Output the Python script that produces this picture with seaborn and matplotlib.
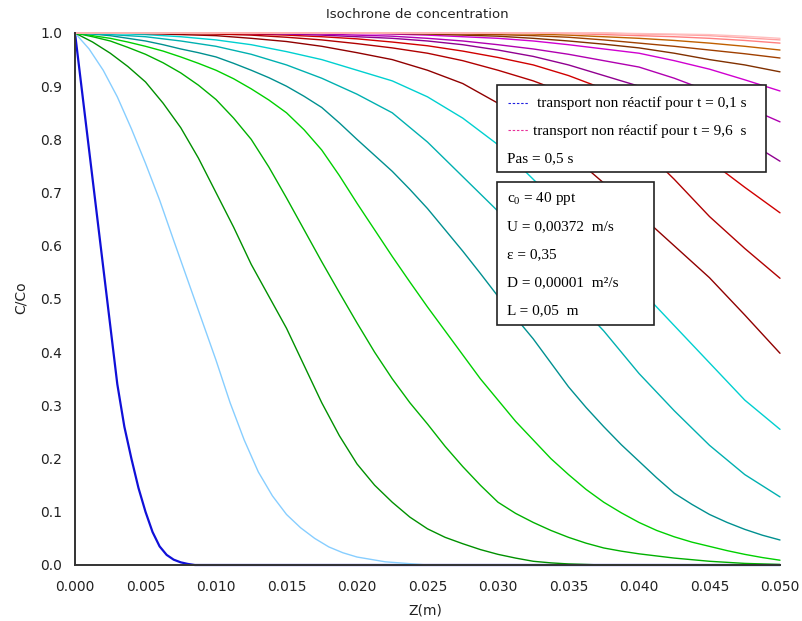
import matplotlib
matplotlib.use("Agg")
import matplotlib.pyplot as plt
from matplotlib.patches import Rectangle
from matplotlib.lines import Line2D
from matplotlib.ticker import MultipleLocator, FormatStrFormatter
import seaborn as sns
import pandas as pd

sns.set_style("white")
plt.rcParams["font.family"] = ["DejaVu Sans"]

# temps des isochrones (s), pas de 0,5 s
times = ["0.1", "0.6", "1.1", "1.6", "2.1", "2.6", "3.1", "3.6", "4.1", "4.6",
         "5.1", "5.6", "6.1", "6.6", "7.1", "7.6", "8.1", "8.6", "9.1", "9.6"]

# couleurs scilab (index 11 a 30)
colors = ["#1010d8", "#87ceff", "#009000", "#00b000", "#00d000", "#009090",
          "#00b0b0", "#00d0d0", "#900000", "#b00000", "#d00000", "#900090",
          "#b000b0", "#d000d0", "#803000", "#a04000", "#c06000", "#ff8080",
          "#ffa0a0", "#ffc0c0"]

# grilles en Z (m)
Z = [0.0, 0.0025, 0.005, 0.0075, 0.01, 0.0125, 0.015, 0.0175, 0.02, 0.0225,
     0.025, 0.0275, 0.03, 0.0325, 0.035, 0.0375, 0.04, 0.0425, 0.045, 0.0475, 0.05]
Zf = [0.0, 0.00125, 0.0025, 0.00375, 0.005, 0.00625, 0.0075, 0.00875, 0.01,
      0.01125, 0.0125, 0.01375, 0.015, 0.01625, 0.0175, 0.01875, 0.02, 0.02125,
      0.0225, 0.02375, 0.025, 0.02625, 0.0275, 0.02875, 0.03, 0.03125, 0.0325,
      0.03375, 0.035, 0.03625, 0.0375, 0.03875, 0.04, 0.04125, 0.0425, 0.04375,
      0.045, 0.04625, 0.0475, 0.04875, 0.05]

# t = 0,1 s et t = 0,6 s
z_01 = [0.0, 0.0005, 0.001, 0.0015, 0.002, 0.0025, 0.003, 0.0035, 0.004, 0.0045,
        0.005, 0.0055, 0.006, 0.0065, 0.007, 0.0075, 0.008, 0.0085, 0.05]
c_01 = [1.0, 0.89, 0.78, 0.67, 0.56, 0.45, 0.34, 0.26, 0.20, 0.145,
        0.10, 0.062, 0.035, 0.019, 0.010, 0.005, 0.002, 0.0, 0.0]

z_06 = [0.0, 0.001, 0.002, 0.003, 0.004, 0.005, 0.006, 0.007, 0.008, 0.009, 0.010,
        0.011, 0.012, 0.013, 0.014, 0.015, 0.016, 0.017, 0.018, 0.019, 0.020,
        0.022, 0.025, 0.05]
c_06 = [1.0, 0.97, 0.93, 0.88, 0.82, 0.755, 0.686, 0.61, 0.535, 0.46, 0.385,
        0.305, 0.235, 0.175, 0.13, 0.095, 0.07, 0.05, 0.034, 0.023, 0.015,
        0.006, 0.0, 0.0]

# t = 1,1 a 2,6 s sur la grille fine
c_11 = [1.0, 0.983, 0.962, 0.937, 0.908, 0.868, 0.822, 0.765, 0.70, 0.635,
        0.565, 0.505, 0.445, 0.375, 0.305, 0.243, 0.19, 0.15, 0.118, 0.09,
        0.068, 0.052, 0.04, 0.029, 0.02, 0.013, 0.007, 0.004, 0.002, 0.001,
        0.0, 0.0, 0.0, 0.0, 0.0, 0.0, 0.0, 0.0, 0.0, 0.0, 0.0]
c_16 = [1.0, 0.993, 0.985, 0.973, 0.96, 0.944, 0.925, 0.902, 0.875, 0.84,
        0.80, 0.748, 0.69, 0.63, 0.57, 0.512, 0.455, 0.40, 0.35, 0.305,
        0.265, 0.223, 0.185, 0.15, 0.118, 0.097, 0.08, 0.065, 0.052, 0.041,
        0.032, 0.026, 0.021, 0.017, 0.013, 0.01, 0.007, 0.005, 0.003, 0.002, 0.001]
c_21 = [1.0, 0.995, 0.99, 0.983, 0.975, 0.966, 0.955, 0.943, 0.93, 0.914,
        0.895, 0.874, 0.85, 0.818, 0.78, 0.732, 0.68, 0.63, 0.58, 0.532,
        0.485, 0.44, 0.395, 0.35, 0.31, 0.27, 0.235, 0.20, 0.17, 0.142,
        0.118, 0.098, 0.08, 0.065, 0.053, 0.043, 0.035, 0.027, 0.02, 0.014, 0.009]
c_26 = [1.0, 0.998, 0.995, 0.99, 0.985, 0.978, 0.97, 0.963, 0.955, 0.943,
        0.93, 0.916, 0.90, 0.881, 0.86, 0.831, 0.80, 0.77, 0.74, 0.706,
        0.67, 0.63, 0.59, 0.548, 0.505, 0.465, 0.425, 0.38, 0.335, 0.296,
        0.26, 0.226, 0.195, 0.164, 0.135, 0.114, 0.095, 0.08, 0.067, 0.056, 0.047]

# t = 3,1 a 9,6 s sur la grille Z
c_31 = [1.0, 0.997, 0.993, 0.985, 0.975, 0.96, 0.94, 0.915, 0.885, 0.85, 0.795,
        0.73, 0.665, 0.59, 0.51, 0.44, 0.36, 0.29, 0.225, 0.17, 0.128]
c_36 = [1.0, 0.999, 0.997, 0.993, 0.987, 0.978, 0.965, 0.95, 0.93, 0.91, 0.88,
        0.84, 0.79, 0.725, 0.66, 0.59, 0.52, 0.45, 0.38, 0.31, 0.255]
c_41 = [1.0, 1.0, 0.999, 0.997, 0.995, 0.99, 0.984, 0.975, 0.963, 0.95, 0.93,
        0.905, 0.868, 0.825, 0.775, 0.718, 0.66, 0.60, 0.54, 0.47, 0.398]
c_46 = [1.0, 1.0, 1.0, 0.999, 0.998, 0.996, 0.992, 0.987, 0.98, 0.972, 0.962,
        0.948, 0.93, 0.91, 0.885, 0.845, 0.79, 0.725, 0.655, 0.595, 0.539]
c_51 = [1.0, 1.0, 1.0, 1.0, 0.999, 0.998, 0.996, 0.993, 0.989, 0.983, 0.976,
        0.966, 0.954, 0.94, 0.92, 0.895, 0.86, 0.815, 0.76, 0.71, 0.662]
c_56 = [1.0, 1.0, 1.0, 1.0, 1.0, 0.999, 0.998, 0.996, 0.993, 0.99, 0.985,
        0.978, 0.968, 0.956, 0.94, 0.92, 0.90, 0.87, 0.835, 0.80, 0.759]
c_61 = [1.0, 1.0, 1.0, 1.0, 1.0, 1.0, 0.999, 0.998, 0.996, 0.994, 0.99,
        0.985, 0.978, 0.97, 0.96, 0.948, 0.936, 0.915, 0.89, 0.862, 0.833]
c_66 = [1.0, 1.0, 1.0, 1.0, 1.0, 1.0, 1.0, 1.0, 0.999, 0.998, 0.996,
        0.993, 0.99, 0.985, 0.978, 0.97, 0.962, 0.948, 0.932, 0.912, 0.891]
c_71 = [1.0, 1.0, 1.0, 1.0, 1.0, 1.0, 1.0, 1.0, 1.0, 0.999, 0.998,
        0.996, 0.994, 0.99, 0.985, 0.979, 0.972, 0.962, 0.95, 0.94, 0.927]
c_76 = [1.0, 1.0, 1.0, 1.0, 1.0, 1.0, 1.0, 1.0, 1.0, 1.0, 0.999,
        0.998, 0.997, 0.995, 0.992, 0.987, 0.981, 0.975, 0.968, 0.961, 0.953]
c_81 = [1.0, 1.0, 1.0, 1.0, 1.0, 1.0, 1.0, 1.0, 1.0, 1.0, 1.0,
        1.0, 0.999, 0.998, 0.996, 0.993, 0.99, 0.986, 0.981, 0.975, 0.968]
c_86 = [1.0, 1.0, 1.0, 1.0, 1.0, 1.0, 1.0, 1.0, 1.0, 1.0, 1.0,
        1.0, 1.0, 1.0, 0.999, 0.997, 0.995, 0.993, 0.99, 0.986, 0.981]
c_91 = [1.0, 1.0, 1.0, 1.0, 1.0, 1.0, 1.0, 1.0, 1.0, 1.0, 1.0,
        1.0, 1.0, 1.0, 1.0, 1.0, 0.998, 0.997, 0.995, 0.991, 0.987]
c_96 = [1.0, 1.0, 1.0, 1.0, 1.0, 1.0, 1.0, 1.0, 1.0, 1.0, 1.0,
        1.0, 1.0, 1.0, 1.0, 1.0, 0.999, 0.998, 0.997, 0.994, 0.99]

curves = [(z_01, c_01), (z_06, c_06), (Zf, c_11), (Zf, c_16), (Zf, c_21),
          (Zf, c_26), (Z, c_31), (Z, c_36), (Z, c_41), (Z, c_46), (Z, c_51),
          (Z, c_56), (Z, c_61), (Z, c_66), (Z, c_71), (Z, c_76), (Z, c_81),
          (Z, c_86), (Z, c_91), (Z, c_96)]

rows = []
for t, (zz, cc) in zip(times, curves):
    for z, c in zip(zz, cc):
        rows.append({"Z": z, "C": c, "t": t})
df = pd.DataFrame(rows)

W, H = 803, 621
fig = plt.figure(figsize=(W / 100, H / 100), dpi=100)
ax = fig.add_axes([75 / W, 56 / H, 705 / W, 532 / H])

sns.lineplot(data=df, x="Z", y="C", hue="t", hue_order=times,
             palette=dict(zip(times, colors)), estimator=None, sort=False,
             legend=False, linewidth=1.0, ax=ax)
for ln in ax.lines:
    ln.set_clip_on(False)
ax.lines[0].set_linewidth(1.6)

ax.set_xlim(0, 0.05)
ax.set_ylim(0, 1.0)
ax.xaxis.set_major_locator(MultipleLocator(0.005))
ax.xaxis.set_minor_locator(MultipleLocator(0.0025))
ax.xaxis.set_major_formatter(FormatStrFormatter("%.3f"))
ax.yaxis.set_major_locator(MultipleLocator(0.1))
ax.yaxis.set_minor_locator(MultipleLocator(0.05))
ax.yaxis.set_major_formatter(FormatStrFormatter("%.1f"))
ax.set_xlabel("")
ax.set_ylabel("")

for s in ["top", "right"]:
    ax.spines[s].set_visible(False)
for s in ["left", "bottom"]:
    ax.spines[s].set_color("#333333")
    ax.spines[s].set_linewidth(1.4)

ax.tick_params(axis="both", which="both", direction="out", colors="#333333",
               labelcolor="#222222", labelsize=10, width=1.2)
ax.tick_params(axis="y", which="major", length=7, pad=2)
ax.tick_params(axis="y", which="minor", length=5)
ax.tick_params(axis="x", which="major", length=6, pad=5)
ax.tick_params(axis="x", which="minor", length=3.5)

fig.text(417 / W, 1 - 14 / H, "Isochrone de concentration", ha="center",
         va="center", fontsize=9.5, color="#222222")
fig.text(425 / W, 1 - 610 / H, "Z(m)", ha="center", va="center", fontsize=10,
         color="#222222")
fig.text(21 / W, 1 - 298 / H, "C/Co", ha="center", va="center", rotation=90,
         fontsize=10, color="#222222")

# encadres d'annotation
serif = ["Liberation Serif", "DejaVu Serif"]


def box(x0, y0, x1, y1):
    fig.add_artist(Rectangle((x0 / W, 1 - y1 / H), (x1 - x0) / W, (y1 - y0) / H,
                             transform=fig.transFigure, facecolor="white",
                             edgecolor="#222222", linewidth=1.2, zorder=5))


def label(x, y, s):
    fig.text(x / W, 1 - y / H, s, ha="left", va="baseline", fontsize=11,
             family=serif, color="black", zorder=6)


box(497, 85, 766, 172)
fig.add_artist(Line2D([508 / W, 528 / W], [1 - 102.5 / H, 1 - 102.5 / H],
                      color="#2020e0", linewidth=0.8, dashes=(2.2, 1.6),
                      transform=fig.transFigure, zorder=6))
fig.add_artist(Line2D([508 / W, 528 / W], [1 - 130 / H, 1 - 130 / H],
                      color="#e8309a", linewidth=0.8, dashes=(2.2, 1.6),
                      transform=fig.transFigure, zorder=6))
label(537, 107, "transport non réactif pour t = 0,1 s")
label(533, 135, "transport non réactif pour t = 9,6  s")
label(507, 162, "Pas = 0,5 s")

box(497, 182, 654, 325)
label(507, 202, r"c$_\mathregular{0}$ = 40 ppt")
label(507, 230, "U = 0,00372  m/s")
label(507, 258, "ε = 0,35")
label(507, 286, "D = 0,00001  m²/s")
label(507, 314, "L = 0,05  m")

fig.savefig("out.png", dpi=100, facecolor="white")
